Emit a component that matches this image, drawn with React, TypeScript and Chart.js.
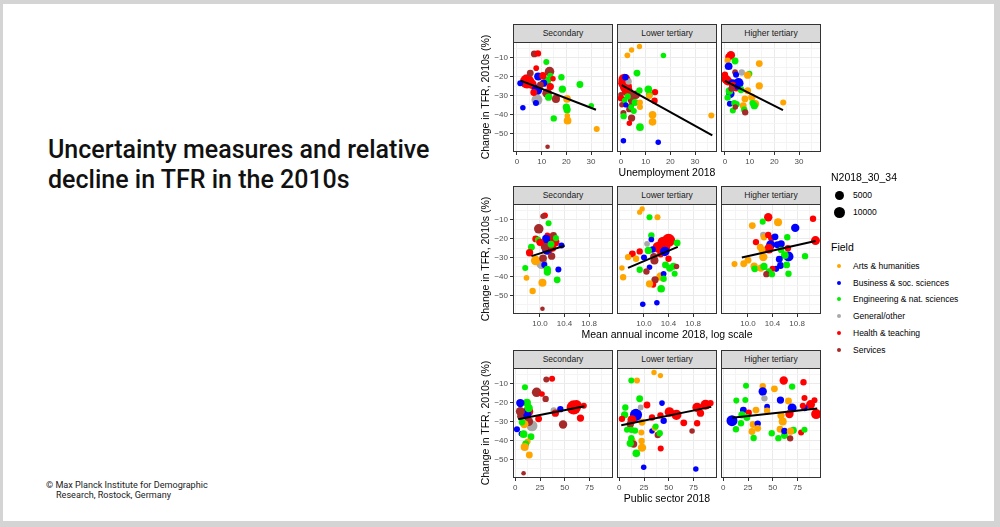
import React, { useEffect, useRef } from 'react';
import { Chart, registerables } from 'chart.js';
Chart.register(...registerables);

// ---------- categories ----------
const FIELD_CODES = ['A', 'B', 'E', 'G', 'H', 'S'];
const FIELD_NAMES = ['Arts & humanities', 'Business & soc. sciences', 'Engineering & nat. sciences', 'General/other', 'Health & teaching', 'Services'];
const FIELD_COLORS = ['#FFA500', '#0000FF', '#00EE00', '#A9A9A9', '#FF0000', '#A52A2A'];
const EDUCATION = ['Secondary', 'Lower tertiary', 'Higher tertiary'];
const SIZE_BREAKS = [5000, 10000];
const ROW_X_TITLES = ['Unemployment 2018', 'Mean annual income 2018, log scale', 'Public sector 2018'];
const Y_TITLE = 'Change in TFR, 2010s (%)';

// ---------- axes ----------
const Y_RANGE = [-59.8, -1.8];
const Y_MAJOR = [-50, -40, -30, -20, -10];
const Y_LABELS = ['−50', '−40', '−30', '−20', '−10'];
const Y_MINOR = [-55, -45, -35, -25, -15, -5];

const X_RANGE_UNEMP = [-1.6, 38.9];
const X_MAJOR_UNEMP = [0, 10, 20, 30];
const X_LABELS_UNEMP = ['0', '10', '20', '30'];
const X_MINOR_UNEMP = [5, 15, 25, 35];

const X_RANGE_INCOME = [9.56, 11.19];
const X_MAJOR_INCOME = [10.0, 10.4, 10.8];
const X_LABELS_INCOME = ['10.0', '10.4', '10.8'];
const X_MINOR_INCOME = [9.6, 9.8, 10.2, 10.6, 11.0];

const X_RANGE_PUBLIC = [-2.3, 98.8];
const X_MAJOR_PUBLIC = [0, 25, 50, 75];
const X_LABELS_PUBLIC = ['0', '25', '50', '75'];
const X_MINOR_PUBLIC = [12.5, 37.5, 62.5, 87.5];

// ---------- data: [x, change in TFR, field, N2018_30_34] ----------
type Pt = [number, number, string, number];

const UNEMP_SECONDARY: Pt[] = [
  [4.1, -22.6, 'H', 18000], [6.0, -24.0, 'H', 6000], [8.1, -27.0, 'B', 8000], [8.1, -32.3, 'G', 9000],
  [13.2, -17.4, 'S', 6000], [12.2, -28.8, 'S', 6000], [15.8, -31.8, 'S', 3500], [5.4, -18.2, 'S', 2000],
  [8.6, -20.0, 'B', 3500], [12.2, -22.3, 'E', 3500], [13.5, -19.6, 'E', 1200], [10.8, -23.5, 'B', 2500],
  [6.8, -28.4, 'H', 2000], [13.5, -25.3, 'H', 2500], [14.6, -21.2, 'H', 800], [7.8, -15.6, 'H', 900],
  [7.0, -8.1, 'S', 1800], [8.5, -7.8, 'H', 1500], [11.9, -12.3, 'E', 1200], [18.0, -20.4, 'E', 1500],
  [25.5, -24.2, 'E', 2000], [1.35, -23.5, 'B', 1200], [18.4, -26.7, 'E', 2500], [12.8, -30.9, 'E', 2500],
  [20.3, -31.8, 'A', 3000], [7.7, -34.0, 'B', 1200], [2.4, -36.5, 'B', 800], [20.0, -36.1, 'E', 2500],
  [20.3, -37.5, 'E', 2500], [20.4, -40.7, 'A', 800], [20.5, -43.3, 'A', 3000], [14.9, -42.1, 'E', 1500],
  [30.1, -35.4, 'E', 800], [32.3, -47.7, 'A', 1200], [12.4, -57.0, 'S', 300], [10.5, -19.6, 'H', 2500],
  [9.5, -24.5, 'S', 2000],
];
const UNEMP_LOWER: Pt[] = [
  [1.4, -21.8, 'H', 12000], [2.0, -25.3, 'H', 12000], [2.5, -27.5, 'H', 9000], [1.0, -23.5, 'H', 8000],
  [3.1, -22.6, 'G', 1500], [1.8, -20.4, 'B', 1500], [7.5, -4.2, 'A', 700], [4.3, -6.0, 'A', 700],
  [2.6, -8.8, 'A', 1000], [17.2, -8.9, 'E', 800], [6.5, -18.2, 'E', 2000], [6.1, -29.6, 'S', 4000],
  [4.5, -29.6, 'S', 2500], [4.3, -32.3, 'S', 3000], [4.1, -35.4, 'S', 1200], [3.4, -37.2, 'S', 1500],
  [4.3, -41.9, 'S', 2500], [1.0, -39.3, 'S', 1200], [0.4, -34.9, 'S', 800], [1.2, -32.3, 'S', 1000],
  [0.0, -29.6, 'S', 800], [0.0, -31.4, 'H', 1500], [3.4, -44.6, 'H', 800], [13.6, -32.8, 'H', 1500],
  [13.8, -28.2, 'H', 1500], [2.7, -30.5, 'E', 1500], [1.1, -40.9, 'E', 1500], [1.5, -32.6, 'E', 800],
  [5.7, -33.7, 'E', 2000], [5.2, -38.2, 'E', 1200], [4.1, -36.1, 'E', 1000], [7.5, -27.4, 'E', 1500],
  [11.1, -26.7, 'E', 3000], [11.5, -29.6, 'E', 2000], [7.7, -46.7, 'E', 3000], [11.5, -30.2, 'A', 1500],
  [7.7, -33.7, 'A', 1200], [7.7, -36.1, 'A', 1200], [12.8, -40.2, 'A', 3000], [12.8, -43.9, 'A', 3000],
  [36.6, -40.5, 'A', 1200], [1.0, -53.9, 'B', 800], [15.1, -54.7, 'B', 800], [2.0, -35.0, 'B', 600],
];
const UNEMP_HIGHER: Pt[] = [
  [0.4, -21.4, 'H', 5000], [1.1, -22.3, 'H', 5000], [2.4, -8.8, 'H', 4000], [1.5, -9.7, 'H', 2000],
  [1.1, -11.6, 'A', 1200], [4.1, -11.8, 'E', 2000], [1.5, -14.6, 'B', 3000], [13.9, -13.2, 'A', 2000],
  [0.0, -19.1, 'H', 1500], [4.1, -17.7, 'S', 1000], [6.8, -17.9, 'G', 1500], [9.9, -18.6, 'E', 1200],
  [9.2, -19.3, 'A', 2500], [4.5, -19.1, 'B', 1200], [5.5, -23.5, 'B', 7000], [3.1, -23.5, 'B', 3000],
  [2.2, -29.1, 'B', 4000], [1.8, -27.7, 'E', 3000], [1.1, -31.1, 'E', 1500], [2.0, -34.4, 'B', 1200],
  [3.8, -34.0, 'E', 1500], [4.7, -34.6, 'E', 1500], [3.2, -37.9, 'E', 1200], [4.2, -36.1, 'S', 800],
  [13.9, -24.9, 'A', 2500], [9.2, -27.5, 'A', 2000], [10.9, -30.9, 'A', 2500], [8.1, -31.8, 'A', 2000],
  [12.3, -34.4, 'A', 3000], [11.9, -35.4, 'E', 2500], [7.4, -35.4, 'A', 2000], [7.8, -37.5, 'E', 1500],
  [8.2, -38.9, 'S', 1500], [23.6, -33.7, 'A', 1200], [3.1, -24.7, 'H', 2500], [4.5, -26.1, 'H', 2000],
  [6.5, -27.0, 'E', 2000], [5.1, -25.3, 'B', 1500], [11.2, -34.0, 'E', 1500], [2.6, -26.5, 'S', 1200],
];

const INCOME_SECONDARY: Pt[] = [
  [10.16, -21.1, 'H', 18000], [10.24, -21.9, 'H', 6000], [10.12, -25.8, 'B', 8000], [10.03, -33.3, 'G', 9000],
  [9.98, -14.9, 'S', 6000], [9.93, -31.6, 'A', 6000], [10.04, -43.3, 'A', 3500], [10.08, -24.4, 'S', 4000],
  [10.19, -29.3, 'S', 2500], [10.05, -30.4, 'S', 3000], [10.22, -18.4, 'S', 2000], [10.08, -7.9, 'H', 1200],
  [10.05, -8.2, 'S', 800], [10.14, -11.9, 'E', 1200], [10.12, -18.4, 'H', 1000], [10.10, -20.2, 'B', 3500],
  [10.26, -19.8, 'E', 1200], [9.93, -20.2, 'H', 2000], [9.97, -20.7, 'E', 1500], [10.0, -22.0, 'H', 2500],
  [9.86, -24.6, 'E', 2000], [9.83, -27.5, 'H', 2500], [10.35, -23.7, 'B', 1200], [10.07, -33.9, 'B', 1200],
  [9.76, -35.6, 'E', 1200], [10.12, -36.3, 'E', 2500], [10.12, -37.7, 'E', 2500], [10.30, -36.3, 'B', 1200],
  [9.78, -40.7, 'A', 1000], [10.28, -41.8, 'E', 2000], [9.88, -47.7, 'A', 1500], [10.04, -57.0, 'S', 300],
  [10.2, -25.0, 'H', 3000], [10.18, -23.0, 'E', 2000],
];
const INCOME_LOWER: Pt[] = [
  [10.31, -21.9, 'H', 9000], [10.40, -21.0, 'H', 15000], [10.23, -24.6, 'H', 9000], [10.36, -24.6, 'H', 4000],
  [9.97, -4.4, 'A', 700], [9.93, -6.1, 'A', 700], [10.22, -8.8, 'A', 1200], [10.09, -8.8, 'E', 1200],
  [10.12, -18.4, 'E', 1500], [10.12, -20.5, 'B', 900], [10.05, -22.8, 'G', 1000], [10.54, -22.3, 'E', 2000],
  [10.14, -25.8, 'B', 1500], [9.81, -28.1, 'H', 2000], [9.93, -26.8, 'H', 1500], [10.07, -26.3, 'E', 2500],
  [9.74, -29.8, 'A', 1500], [9.87, -30.7, 'A', 1500], [10.0, -30.0, 'B', 1200], [10.17, -31.6, 'S', 3500],
  [10.16, -29.5, 'S', 2500], [10.27, -28.2, 'H', 2000], [10.34, -26.8, 'B', 6000], [10.40, -30.7, 'H', 1500],
  [10.48, -34.6, 'E', 2000], [10.42, -35.6, 'E', 2500], [10.35, -33.9, 'E', 2000], [10.53, -34.7, 'S', 800],
  [10.09, -35.1, 'B', 800], [9.64, -35.6, 'A', 800], [9.93, -36.5, 'E', 1500], [10.04, -37.4, 'S', 1500],
  [9.66, -40.4, 'A', 1500], [10.27, -40.0, 'A', 4000], [10.32, -38.6, 'B', 1000], [10.32, -41.2, 'E', 1500],
  [10.18, -41.8, 'S', 2500], [10.50, -38.6, 'E', 1200], [10.15, -44.4, 'H', 1200], [10.09, -43.9, 'A', 2500],
  [10.28, -46.5, 'E', 3000], [9.98, -54.6, 'B', 800], [10.21, -53.9, 'B', 800],
];
const INCOME_HIGHER: Pt[] = [
  [10.33, -8.8, 'H', 4000], [11.06, -9.6, 'H', 1500], [10.24, -11.1, 'E', 1200], [10.49, -11.4, 'A', 3500],
  [10.07, -13.2, 'A', 2000], [10.77, -14.4, 'B', 4000], [10.25, -18.1, 'G', 1500], [10.13, -21.9, 'H', 1500],
  [10.26, -19.3, 'A', 1500], [10.33, -18.1, 'H', 1500], [10.38, -19.8, 'H', 1500], [10.44, -19.1, 'B', 2000],
  [10.64, -19.3, 'E', 1500], [10.37, -23.3, 'B', 5000], [10.48, -23.3, 'B', 2000], [10.54, -22.8, 'B', 2500],
  [10.34, -25.4, 'H', 6000], [10.20, -24.6, 'A', 2000], [10.23, -26.0, 'A', 2000], [10.54, -26.0, 'E', 1500],
  [10.65, -25.1, 'H', 1500], [10.25, -29.8, 'A', 4000], [10.66, -29.5, 'B', 7000], [10.60, -28.8, 'E', 3000],
  [10.51, -30.9, 'B', 2000], [10.0, -31.4, 'A', 2000], [9.93, -33.3, 'A', 2000], [9.78, -33.5, 'A', 1200],
  [10.10, -34.6, 'A', 2500], [10.11, -36.0, 'E', 2000], [10.21, -35.6, 'A', 2500], [10.26, -34.7, 'E', 2500],
  [10.53, -34.2, 'B', 2000], [10.63, -33.9, 'E', 2000], [10.46, -36.0, 'B', 1200], [10.40, -36.0, 'H', 1200],
  [10.34, -37.4, 'E', 1500], [10.30, -38.8, 'S', 1500], [10.39, -38.8, 'E', 1500], [10.66, -38.6, 'E', 1500],
  [10.93, -29.3, 'E', 1500], [11.10, -21.1, 'H', 5000],
];

const PUBLIC_SECONDARY: Pt[] = [
  [59.1, -22.6, 'H', 18000], [62.0, -21.5, 'H', 8000], [12.8, -24.7, 'H', 8000], [10.8, -26.1, 'B', 8000],
  [16.9, -32.3, 'G', 9000], [21.6, -14.6, 'S', 6000], [5.1, -24.7, 'S', 5000], [48.3, -31.6, 'S', 4000],
  [13.5, -30.0, 'S', 5000], [9.1, -31.4, 'A', 4000], [11.8, -20.1, 'E', 3500], [13.5, -22.9, 'E', 4000],
  [5.1, -20.3, 'B', 4000], [37.2, -7.5, 'H', 1200], [31.4, -7.9, 'S', 1200], [9.8, -12.0, 'E', 1200],
  [27.0, -15.5, 'H', 900], [30.7, -18.1, 'S', 1500], [69.3, -21.7, 'H', 1200], [38.9, -24.2, 'G', 1500],
  [45.6, -23.5, 'B', 1500], [40.5, -25.6, 'H', 2500], [5.1, -27.3, 'S', 1500], [23.6, -28.6, 'H', 2000],
  [65.9, -28.2, 'H', 2500], [6.8, -30.4, 'E', 1500], [1.7, -34.1, 'B', 1200], [6.1, -36.5, 'B', 800],
  [8.4, -36.7, 'E', 3000], [15.9, -38.0, 'E', 2000], [12.5, -40.6, 'A', 1200], [10.5, -41.9, 'E', 2000],
  [9.5, -43.5, 'A', 3500], [14.2, -47.7, 'A', 2000], [8.4, -57.3, 'S', 300],
];
const PUBLIC_LOWER: Pt[] = [
  [50.7, -25.0, 'H', 6000], [57.8, -26.5, 'H', 7000], [78.7, -22.6, 'H', 6000], [87.2, -21.2, 'H', 7000],
  [16.9, -26.5, 'B', 12000], [12.8, -29.1, 'H', 5000], [35.1, -4.2, 'A', 700], [41.6, -5.8, 'A', 700],
  [12.2, -8.4, 'E', 1200], [17.9, -8.4, 'A', 1200], [20.6, -18.0, 'E', 2000], [43.2, -20.3, 'B', 900],
  [21.6, -22.6, 'G', 1000], [6.1, -22.6, 'E', 1500], [28.0, -21.3, 'H', 2000], [5.4, -26.5, 'E', 2500],
  [2.7, -28.6, 'H', 1500], [11.1, -31.4, 'S', 2500], [23.0, -30.4, 'A', 2000], [33.1, -27.9, 'H', 1500],
  [44.9, -29.6, 'B', 1500], [41.6, -26.8, 'H', 1500], [65.2, -30.7, 'H', 2000], [78.7, -30.9, 'H', 1500],
  [92.2, -20.3, 'H', 1500], [82.1, -25.6, 'H', 2500], [73.6, -35.0, 'S', 800], [33.1, -35.0, 'B', 800],
  [35.8, -33.5, 'A', 1200], [36.8, -32.7, 'E', 1200], [7.8, -34.4, 'E', 1200], [12.2, -34.4, 'E', 1500],
  [15.9, -34.8, 'E', 1500], [38.9, -37.1, 'S', 1500], [40.9, -36.2, 'E', 1500], [22.3, -35.8, 'A', 1200],
  [22.6, -40.3, 'A', 1500], [12.8, -40.3, 'A', 2500], [12.2, -38.8, 'E', 1500], [14.5, -41.9, 'S', 2500],
  [11.1, -41.5, 'E', 2500], [23.0, -43.8, 'A', 4000], [41.9, -44.3, 'H', 1200], [17.2, -46.8, 'E', 3000],
  [24.7, -54.1, 'B', 800], [77.4, -55.0, 'B', 800],
];
const PUBLIC_HIGHER: Pt[] = [
  [61.1, -8.4, 'H', 4000], [81.1, -9.3, 'H', 1500], [69.6, -11.6, 'E', 1500], [23.0, -11.2, 'E', 1200],
  [39.9, -11.4, 'A', 1500], [51.7, -12.8, 'A', 2000], [39.9, -14.2, 'B', 4000], [41.6, -17.8, 'G', 1500],
  [13.2, -19.0, 'E', 1200], [22.3, -18.7, 'E', 1200], [57.8, -18.7, 'B', 2500], [65.9, -19.2, 'A', 2000],
  [82.1, -17.6, 'H', 1200], [92.2, -18.8, 'H', 1200], [20.3, -24.0, 'B', 2000], [25.7, -25.4, 'H', 1500],
  [33.1, -24.0, 'A', 2000], [44.3, -22.2, 'B', 1000], [44.3, -24.3, 'A', 1500], [58.4, -26.8, 'A', 2500],
  [69.6, -22.9, 'B', 5000], [66.9, -26.1, 'H', 4000], [88.2, -21.1, 'H', 5000], [82.1, -22.9, 'B', 1500],
  [80.4, -21.7, 'H', 1200], [93.9, -26.1, 'H', 7000], [8.8, -29.6, 'B', 9000], [18.9, -26.5, 'E', 2500],
  [23.9, -27.9, 'E', 2000], [17.9, -30.9, 'E', 1500], [30.1, -31.6, 'A', 2000], [12.8, -34.1, 'E', 1500],
  [34.8, -31.1, 'B', 1500], [60.1, -30.0, 'A', 3500], [29.0, -35.3, 'A', 2000], [34.8, -33.6, 'A', 2000],
  [49.0, -36.2, 'E', 1500], [30.7, -38.7, 'E', 1500], [55.7, -38.8, 'E', 1500], [61.8, -37.4, 'E', 2000],
  [57.4, -34.1, 'A', 2000], [61.8, -35.0, 'B', 1500], [70.9, -34.6, 'E', 2000], [67.9, -35.1, 'A', 2500],
  [67.6, -38.9, 'S', 1500], [78.7, -35.8, 'H', 1200], [82.1, -34.4, 'E', 1200],
];

// fitted regression lines (endpoints in data units)
const FIT_UNEMP = [[[1.5, -22.2], [32, -37.5]], [[0.3, -24.5], [37, -51.0]], [[0, -22.3], [23.5, -37.7]]];
const FIT_INCOME = [[[9.86, -29.3], [10.40, -23.8]], [[9.74, -35.5], [10.55, -24.4]], [[9.9, -30.0], [11.1, -21.3]]];
const FIT_PUBLIC = [[[3, -28.8], [70, -22.0]], [[2, -32.0], [93, -22.3]], [[9, -28.0], [95, -23.2]]];

// ---------- layout ----------
const COL_LEFT = [513, 617, 721];
const PANEL_W = 100;
const PLOT_H = 110;
const PLOT_TOP = [42, 204, 368];
const STRIP_H = 19;
const X_AXIS_H = 16;
const Y_AXIS_W = 30;
const PAD = 5;
const FONT = '"Liberation Sans", Arial, Helvetica, sans-serif';

const radiusOf = (n: number) => 1.6 + 0.041 * Math.sqrt(n);
const colorOf = (code: string) => FIELD_COLORS[FIELD_CODES.indexOf(code)];

const ROWS = [
  { panels: [UNEMP_SECONDARY, UNEMP_LOWER, UNEMP_HIGHER], fits: FIT_UNEMP, range: X_RANGE_UNEMP, major: X_MAJOR_UNEMP, labels: X_LABELS_UNEMP, minor: X_MINOR_UNEMP },
  { panels: [INCOME_SECONDARY, INCOME_LOWER, INCOME_HIGHER], fits: FIT_INCOME, range: X_RANGE_INCOME, major: X_MAJOR_INCOME, labels: X_LABELS_INCOME, minor: X_MINOR_INCOME },
  { panels: [PUBLIC_SECONDARY, PUBLIC_LOWER, PUBLIC_HIGHER], fits: FIT_PUBLIC, range: X_RANGE_PUBLIC, major: X_MAJOR_PUBLIC, labels: X_LABELS_PUBLIC, minor: X_MINOR_PUBLIC },
];

const borderPlugin = {
  id: 'panelBorder',
  afterDatasetsDraw(chart: any) {
    const { ctx, chartArea } = chart;
    ctx.save();
    ctx.strokeStyle = '#333333';
    ctx.lineWidth = 1;
    ctx.strokeRect(chartArea.left + 0.5, chartArea.top + 0.5, chartArea.right - chartArea.left - 1, chartArea.bottom - chartArea.top - 1);
    ctx.restore();
  },
};

function axisCfg(range: number[], major: number[], labels: string[], minor: number[], show: boolean, isX: boolean) {
  const all = [...major, ...minor].sort((a, b) => a - b);
  return {
    type: 'linear',
    min: range[0],
    max: range[1],
    afterBuildTicks: (s: any) => { s.ticks = all.map((v) => ({ value: v })); },
    afterFit: (s: any) => {
      if (isX) s.height = X_AXIS_H; else s.width = show ? Y_AXIS_W : 0;
      s.paddingLeft = 0; s.paddingRight = 0; s.paddingTop = 0; s.paddingBottom = 0;
    },
    border: { display: false },
    grid: {
      display: true,
      drawOnChartArea: true,
      drawTicks: show,
      tickLength: 3,
      color: (c: any) => (c.tick && major.includes(c.tick.value) ? '#EBEBEB' : '#F4F4F4'),
      tickColor: (c: any) => (c.tick && major.includes(c.tick.value) ? '#333333' : 'rgba(0,0,0,0)'),
      lineWidth: 1,
    },
    ticks: {
      display: show,
      autoSkip: false,
      maxRotation: 0,
      minRotation: 0,
      padding: 2,
      color: '#4D4D4D',
      font: { family: FONT, size: 8 },
      callback: (v: any) => { const i = major.indexOf(v); return i >= 0 ? labels[i] : ''; },
    },
  };
}

function Panel({ row, col }: { row: number; col: number }) {
  const ref = useRef<HTMLCanvasElement>(null);
  const cfg = ROWS[row];
  const yw = col === 0 ? Y_AXIS_W : 0;
  const width = PAD + yw + PANEL_W + PAD;
  const height = PLOT_H + X_AXIS_H;
  useEffect(() => {
    const pts = cfg.panels[col];
    const fit = cfg.fits[col];
    const chart = new Chart(ref.current as HTMLCanvasElement, {
      type: 'scatter',
      data: {
        datasets: [
          {
            type: 'line',
            data: fit.map((p) => ({ x: p[0], y: p[1] })),
            borderColor: '#000000',
            borderWidth: 2,
            pointRadius: 0,
            fill: false,
            order: 0,
            clip: 0,
          } as any,
          {
            type: 'scatter',
            data: pts.map((p) => ({ x: p[0], y: p[1] })),
            pointRadius: pts.map((p) => radiusOf(p[3])),
            pointHoverRadius: pts.map((p) => radiusOf(p[3])),
            pointBackgroundColor: pts.map((p) => colorOf(p[2])),
            pointBorderWidth: 0,
            pointBorderColor: 'rgba(0,0,0,0)',
            order: 1,
            clip: 0,
          } as any,
        ],
      },
      options: {
        animation: false,
        responsive: false,
        maintainAspectRatio: false,
        devicePixelRatio: 1,
        events: [],
        layout: { padding: { left: PAD, right: PAD, top: 0, bottom: 0 }, autoPadding: false },
        plugins: { legend: { display: false }, tooltip: { enabled: false }, title: { display: false } },
        scales: {
          x: axisCfg(cfg.range, cfg.major, cfg.labels, cfg.minor, true, true) as any,
          y: axisCfg(Y_RANGE, Y_MAJOR, Y_LABELS, Y_MINOR, col === 0, false) as any,
        },
      },
      plugins: [borderPlugin],
    });
    return () => chart.destroy();
  }, []);
  return (
    <canvas
      ref={ref}
      width={width}
      height={height}
      style={{ position: 'absolute', left: COL_LEFT[col] - yw - PAD, top: PLOT_TOP[row], width, height }}
    />
  );
}

const abs = (s: any) => ({ position: 'absolute', ...s } as React.CSSProperties);

export default function App() {
  return (
    <div style={{ position: 'fixed', left: 0, top: 0, width: 1000, height: 527, background: '#D4D4D4', overflow: 'hidden', fontFamily: FONT }}>
      <div style={abs({ left: 3, top: 4, width: 991, height: 517, background: '#FFFFFF' })} />
      <div style={abs({ left: 48, top: 135, width: 440, fontFamily: 'Roboto, "Noto Sans", sans-serif', fontWeight: 500, fontSize: 25, lineHeight: '30px', color: '#111111', whiteSpace: 'nowrap' })}>
        Uncertainty measures and relative<br />decline in TFR in the 2010s
      </div>
      <div style={abs({ left: 46, top: 480, fontFamily: 'Roboto, "Noto Sans", sans-serif', fontSize: 9.1, lineHeight: '10px', color: '#222222', whiteSpace: 'nowrap' })}>
        <div>© Max Planck Institute for Demographic</div>
        <div style={{ paddingLeft: 10 }}>Research, Rostock, Germany</div>
      </div>

      {ROWS.map((r, ri) => (
        <React.Fragment key={ri}>
          {EDUCATION.map((ed, ci) => (
            <React.Fragment key={ci}>
              <div style={abs({ left: COL_LEFT[ci], top: PLOT_TOP[ri] - STRIP_H + 1, width: PANEL_W, height: STRIP_H, boxSizing: 'border-box', border: '1px solid #333333', background: '#D9D9D9', color: '#1A1A1A', fontSize: 8.5, lineHeight: `${STRIP_H - 2}px`, textAlign: 'center' })}>{ed}</div>
              <Panel row={ri} col={ci} />
            </React.Fragment>
          ))}
          <div style={abs({ left: 385, top: PLOT_TOP[ri] + PLOT_H / 2 - 7, width: 200, height: 14, lineHeight: '14px', fontSize: 10.5, color: '#000', textAlign: 'center', transform: 'rotate(-90deg)', whiteSpace: 'nowrap' })}>{Y_TITLE}</div>
          <div style={abs({ left: COL_LEFT[0], top: PLOT_TOP[ri] + PLOT_H + 13, width: COL_LEFT[2] + PANEL_W - COL_LEFT[0], height: 14, lineHeight: '14px', fontSize: 10.5, color: '#000', textAlign: 'center', whiteSpace: 'nowrap' })}>{ROW_X_TITLES[ri]}</div>
        </React.Fragment>
      ))}

      <div style={abs({ left: 831, top: 170, fontSize: 10.5, lineHeight: '14px', color: '#000' })}>N2018_30_34</div>
      {SIZE_BREAKS.map((n, i) => (
        <React.Fragment key={n}>
          <div style={abs({ left: 839.3 - radiusOf(n), top: 195.3 + i * 17 - radiusOf(n), width: radiusOf(n) * 2, height: radiusOf(n) * 2, borderRadius: '50%', background: '#000' })} />
          <div style={abs({ left: 853, top: 195.3 + i * 17 - 6, fontSize: 8.5, lineHeight: '12px', color: '#000' })}>{n}</div>
        </React.Fragment>
      ))}
      <div style={abs({ left: 831, top: 240, fontSize: 10.5, lineHeight: '14px', color: '#000' })}>Field</div>
      {FIELD_NAMES.map((f, i) => (
        <React.Fragment key={f}>
          <div style={abs({ left: 837, top: 266 + i * 16.7 - 2, width: 4, height: 4, borderRadius: '50%', background: FIELD_COLORS[i] })} />
          <div style={abs({ left: 853, top: 266 + i * 16.7 - 6, fontSize: 8.5, lineHeight: '12px', color: '#000', whiteSpace: 'nowrap' })}>{f}</div>
        </React.Fragment>
      ))}
    </div>
  );
}
